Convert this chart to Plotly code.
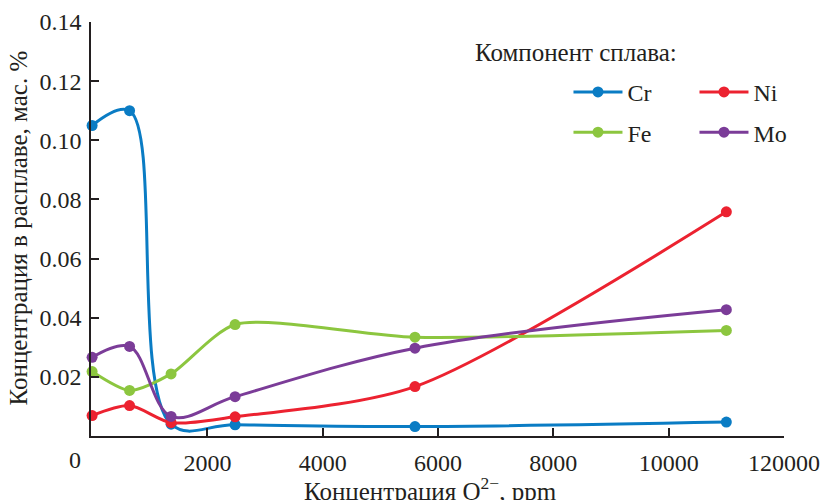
import plotly.graph_objects as go

# O2- concentration in the melt, ppm
x_ppm = [0, 650, 1370, 2480, 5600, 11000]

# Alloy component concentration in the melt, wt. %
cr = [0.105, 0.110, 0.004, 0.0038, 0.0032, 0.0047]
ni = [0.0069, 0.0103, 0.0045, 0.0065, 0.0167, 0.0758]
fe = [0.0218, 0.0154, 0.0210, 0.0377, 0.0334, 0.0357]
mo = [0.0266, 0.0303, 0.0066, 0.0133, 0.0297, 0.0427]

series_names = ["Cr", "Ni", "Fe", "Mo"]
series_values = [cr, ni, fe, mo]
series_colors = ["#0a7cc4", "#ec2230", "#8cc63f", "#7b3c98"]
series_smoothing = [1.05, 0.8, 0.7, 1.0]
legend_ids = ["legend", "legend", "legend2", "legend2"]

x_tick_vals = [2000, 4000, 6000, 8000, 10000, 12000]
x_tick_text = ["2000", "4000", "6000", "8000", "10000", "120000"]
y_tick_vals = [0.02, 0.04, 0.06, 0.08, 0.10, 0.12, 0.14]
y_tick_text = ["0.02", "0.04", "0.06", "0.08", "0.10", "0.12", "0.14"]

FONT = "Liberation Serif"
INK = "#231f20"
FS = 24
FS_TITLE = 25

fig = go.Figure()
for name, vals, color, sm, lg in zip(series_names, series_values, series_colors,
                                     series_smoothing, legend_ids):
    fig.add_trace(go.Scatter(
        x=x_ppm, y=vals, name=name, mode="lines+markers",
        line=dict(color=color, width=3, shape="spline", smoothing=sm),
        marker=dict(color=color, size=11),
        legend=lg, cliponaxis=False,
    ))

legend_common = dict(
    orientation="h", xanchor="left", yanchor="middle",
    font=dict(family=FONT, size=FS, color=INK),
    bgcolor="rgba(0,0,0,0)", borderwidth=0,
    itemwidth=49, entrywidth=62, entrywidthmode="pixels",
    tracegroupgap=0, itemclick=False,
)

fig.update_layout(
    width=820, height=500,
    margin=dict(l=91, r=36, t=22, b=64, autoexpand=False),
    paper_bgcolor="white", plot_bgcolor="white",
    font=dict(family=FONT, size=FS, color=INK),
    showlegend=True,
    legend=dict(x=0.689, y=0.830, **legend_common),
    legend2=dict(x=0.689, y=0.733, **legend_common),
    xaxis=dict(
        range=[-19, 12000], showgrid=False, zeroline=False, automargin=False,
        showline=True, linecolor=INK, linewidth=1.5,
        ticks="inside", ticklen=8, tickwidth=1.5, tickcolor=INK,
        tickvals=x_tick_vals, ticktext=x_tick_text,
        tickfont=dict(family=FONT, size=FS, color=INK),
        ticklabelstandoff=4,
    ),
    yaxis=dict(
        range=[0, 0.14], showgrid=False, zeroline=False, automargin=False,
        showline=True, linecolor=INK, linewidth=1.5,
        ticks="inside", ticklen=8, tickwidth=1.5, tickcolor=INK,
        tickvals=y_tick_vals, ticktext=y_tick_text,
        tickfont=dict(family=FONT, size=FS, color=INK),
        ticklabelstandoff=3,
    ),
    annotations=[
        dict(text="0", xref="paper", yref="paper", x=-0.023, y=-0.058,
             xanchor="center", yanchor="middle", showarrow=False,
             font=dict(family=FONT, size=FS, color=INK)),
        dict(text="Концентрация O<sup>2−</sup>, ppm", xref="paper", yref="paper",
             x=0.49, y=-0.085, xanchor="center", yanchor="top", showarrow=False,
             font=dict(family=FONT, size=FS_TITLE, color=INK)),
        dict(text="Концентрация в расплаве, мас. %", xref="paper", yref="paper",
             x=-0.105, y=0.502, xanchor="center", yanchor="middle", textangle=-90,
             showarrow=False, font=dict(family=FONT, size=FS_TITLE, color=INK)),
        dict(text="Компонент сплава:", xref="paper", yref="paper",
             x=0.551, y=0.9275, xanchor="left", yanchor="middle", showarrow=False,
             font=dict(family=FONT, size=FS_TITLE, color=INK)),
    ],
)

fig.write_html("out.html")
